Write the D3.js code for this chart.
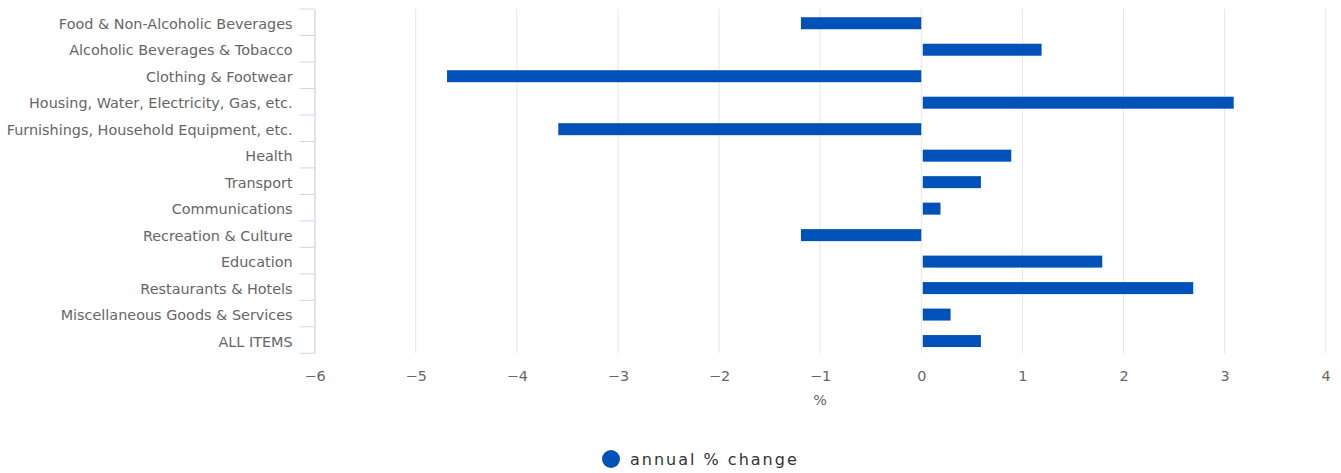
<!DOCTYPE html>
<html>
<head>
<meta charset="utf-8">
<script src="https://cdn.jsdelivr.net/npm/d3@7"></script>
<style>
  body { margin: 0; background: #fff; }
  text { font-family: "DejaVu Sans", Verdana, sans-serif; }
</style>
</head>
<body>
<div class="chart"></div>
<script>
// categories and values, top to bottom
var categories = ["Food & Non-Alcoholic Beverages", "Alcoholic Beverages & Tobacco", "Clothing & Footwear",
  "Housing, Water, Electricity, Gas, etc.", "Furnishings, Household Equipment, etc.", "Health", "Transport",
  "Communications", "Recreation & Culture", "Education", "Restaurants & Hotels",
  "Miscellaneous Goods & Services", "ALL ITEMS"];
var values = [-1.2, 1.2, -4.7, 3.1, -3.6, 0.9, 0.6, 0.2, -1.2, 1.8, 2.7, 0.3, 0.6];
var xTicks = [-6, -5, -4, -3, -2, -1, 0, 1, 2, 3, 4];
var seriesName = "annual % change";
var axisTitle = "%";

var W = 1341, H = 473;
var plotL = 314.6, plotR = 1325.7, plotT = 9, plotB = 353.3;

var svg = d3.select(".chart")
  .append("svg")
  .attr("width", W)
  .attr("height", H);

var x = d3.scaleLinear().domain([-6, 4]).range([plotL, plotR]);
var y = d3.scaleBand().domain(categories).range([plotT, plotB]);

// gridlines
svg.append("g")
  .selectAll("line")
  .data(xTicks)
  .enter()
  .append("line")
  .attr("x1", function(d){ return x(d); })
  .attr("x2", function(d){ return x(d); })
  .attr("y1", plotT)
  .attr("y2", plotB)
  .attr("stroke", "#e6e6e6")
  .attr("stroke-width", 1);

// bars (small inset like a white 1px border)
var barH = 12;
svg.append("g")
  .selectAll("rect")
  .data(values)
  .enter()
  .append("rect")
  .attr("x", function(d){ return d < 0 ? x(d) + 1 : x(0) + 1.5; })
  .attr("width", function(d){ return Math.abs(x(d) - x(0)) - (d < 0 ? 1 : 2.5); })
  .attr("y", function(d, i){ return y(categories[i]) + (y.bandwidth() - barH) / 2 + 1; })
  .attr("height", barH)
  .attr("fill", "#0052b9");

// category axis
var yAxis = d3.axisLeft(y)
  .tickSizeOuter(0)
  .tickSize(0)
  .tickPadding(22);
var gy = svg.append("g")
  .attr("transform", "translate(" + plotL + ",0)")
  .call(yAxis);
gy.select(".domain").attr("stroke", "#ccd6eb");
gy.selectAll("text")
  .attr("font-size", "14.4px")
  .attr("fill", "#666666")
  .attr("y", 2)
  .style("font-family", "'DejaVu Sans', Verdana, sans-serif");

// band edge ticks
var edges = categories.map(function(c){ return y(c); }).concat([plotB]);
gy.selectAll(".edge")
  .data(edges)
  .enter()
  .append("line")
  .attr("class", "edge")
  .attr("x1", -15)
  .attr("x2", 0)
  .attr("y1", function(d){ return d; })
  .attr("y2", function(d){ return d; })
  .attr("stroke", "#ccd6eb");

// value axis labels
var xAxis = d3.axisBottom(x)
  .tickValues(xTicks)
  .tickSize(0)
  .tickPadding(17)
  .tickFormat(function(d){ return d < 0 ? "\u2212" + Math.abs(d) : d; });
var gx = svg.append("g")
  .attr("transform", "translate(0," + plotB + ")")
  .call(xAxis);
gx.select(".domain").remove();
gx.selectAll("text")
  .attr("font-size", "14.4px")
  .attr("fill", "#666666")
  .style("font-family", "'DejaVu Sans', Verdana, sans-serif");

svg.append("text")
  .attr("x", (plotL + plotR) / 2)
  .attr("y", 405)
  .attr("text-anchor", "middle")
  .attr("font-size", "14.4px")
  .attr("fill", "#666666")
  .text(axisTitle);

// legend
var legend = svg.append("g").attr("transform", "translate(611,459)");
legend.append("circle")
  .attr("r", 9)
  .attr("fill", "#0052b9");
legend.append("text")
  .attr("x", 19)
  .attr("y", 0)
  .attr("dy", "0.35em")
  .attr("font-size", "16px")
  .attr("letter-spacing", "2px")
  .attr("fill", "#333333")
  .text(seriesName);
</script>
</body>
</html>
